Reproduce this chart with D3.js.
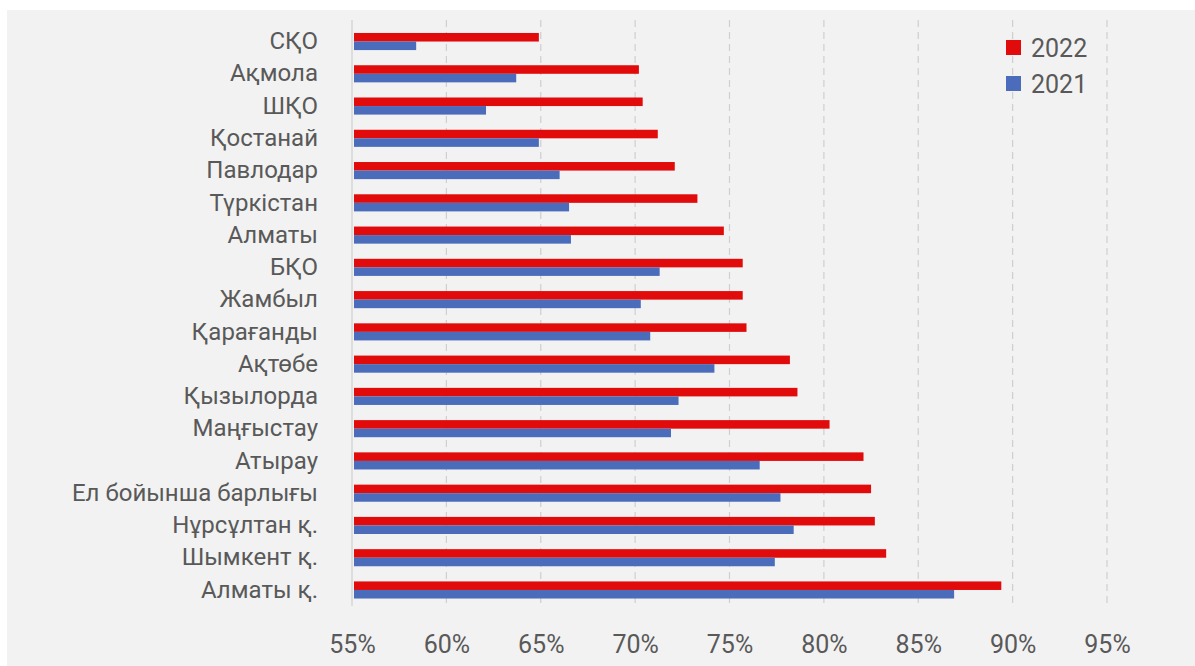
<!DOCTYPE html>
<html>
<head>
<meta charset="utf-8">
<script src="https://cdn.jsdelivr.net/npm/d3@7"></script>
<style>
  body { margin: 0; background: #fff; }
  text { font-family: Roboto, "Noto Sans", sans-serif; fill: #595959; }
</style>
</head>
<body>
<svg id="chart" width="1195" height="666"></svg>
<script>
// regions, top to bottom
const regions = ['СҚО', 'Ақмола', 'ШҚО', 'Қостанай', 'Павлодар', 'Түркістан', 'Алматы', 'БҚО',
  'Жамбыл', 'Қарағанды', 'Ақтөбе', 'Қызылорда', 'Маңғыстау', 'Атырау', 'Ел бойынша барлығы',
  'Нұрсұлтан қ.', 'Шымкент қ.', 'Алматы қ.'];

const values2022 = [64.9, 70.2, 70.4, 71.2, 72.1, 73.3, 74.7, 75.7, 75.7, 75.9, 78.2, 78.6, 80.3, 82.1, 82.5, 82.7, 83.3, 89.4];
const values2021 = [58.4, 63.7, 62.1, 64.9, 66.0, 66.5, 66.6, 71.3, 70.3, 70.8, 74.2, 72.3, 71.9, 76.6, 77.7, 78.4, 77.4, 86.9];

const years = ['2022', '2021'];
const xTicks = [55, 60, 65, 70, 75, 80, 85, 90, 95];

const colors = { '2022': '#e10b0b', '2021': '#4a6cbb' };

const svg = d3.select('#chart');

// grey panel
svg.append('rect')
  .attr('x', 7).attr('y', 10)
  .attr('width', 1188).attr('height', 656)
  .style('fill', '#f2f2f2');

const x = d3.scaleLinear().domain([55, 95]).range([352, 1107]);
const y = d3.scaleBand().domain(regions).range([25.4, 606.1]).paddingInner(0.47).paddingOuter(0.235);
const ySub = d3.scaleBand().domain(years).range([0, y.bandwidth()]);

// gridlines
svg.append('g')
  .selectAll('line')
  .data(xTicks)
  .enter()
  .append('line')
  .attr('x1', d => x(d)).attr('x2', d => x(d))
  .attr('y1', 20).attr('y2', 606)
  .style('stroke', '#cfcfcf')
  .style('stroke-width', 1.2)
  .style('stroke-dasharray', d => d === 55 ? null : '7,5');

// x axis labels
const xAxis = svg.append('g')
  .attr('transform', 'translate(0,606)')
  .call(d3.axisBottom(x).tickValues(xTicks).tickSize(0).tickPadding(29).tickFormat(d => d + '%'));
xAxis.select('.domain').remove();
xAxis.selectAll('text')
  .style('font-size', '25px')
  .style('fill', '#595959')
  .style('font-family', 'Roboto, sans-serif');

// category labels
const yAxis = svg.append('g')
  .attr('transform', 'translate(352,0)')
  .call(d3.axisLeft(y).tickSize(0).tickPadding(34));
yAxis.select('.domain').remove();
yAxis.selectAll('text')
  .style('font-size', '24px')
  .style('fill', '#595959')
  .style('font-family', 'Roboto, sans-serif');

// bars
const rows = svg.append('g')
  .selectAll('.row')
  .data(regions.map((r, i) => ({ region: r, '2022': values2022[i], '2021': values2021[i] })))
  .enter()
  .append('g')
  .attr('class', 'row')
  .attr('transform', d => `translate(0,${y(d.region)})`);

rows.selectAll('rect')
  .data(d => years.map(yr => ({ year: yr, value: d[yr] })))
  .enter()
  .append('rect')
  .attr('x', x(55) + 2)
  .attr('y', d => ySub(d.year))
  .attr('width', d => x(d.value) - x(55) - 2)
  .attr('height', ySub.bandwidth())
  .style('fill', d => colors[d.year]);

// legend
const legend = svg.append('g')
  .selectAll('g')
  .data(years)
  .enter()
  .append('g')
  .attr('transform', (d, i) => `translate(1006,${40 + i * 36})`);

legend.append('rect')
  .attr('width', 15).attr('height', 15)
  .style('fill', d => colors[d]);

legend.append('text')
  .attr('x', 25).attr('y', 8)
  .attr('dy', '0.35em')
  .style('font-size', '25px')
  .text(d => d);
</script>
</body>
</html>
